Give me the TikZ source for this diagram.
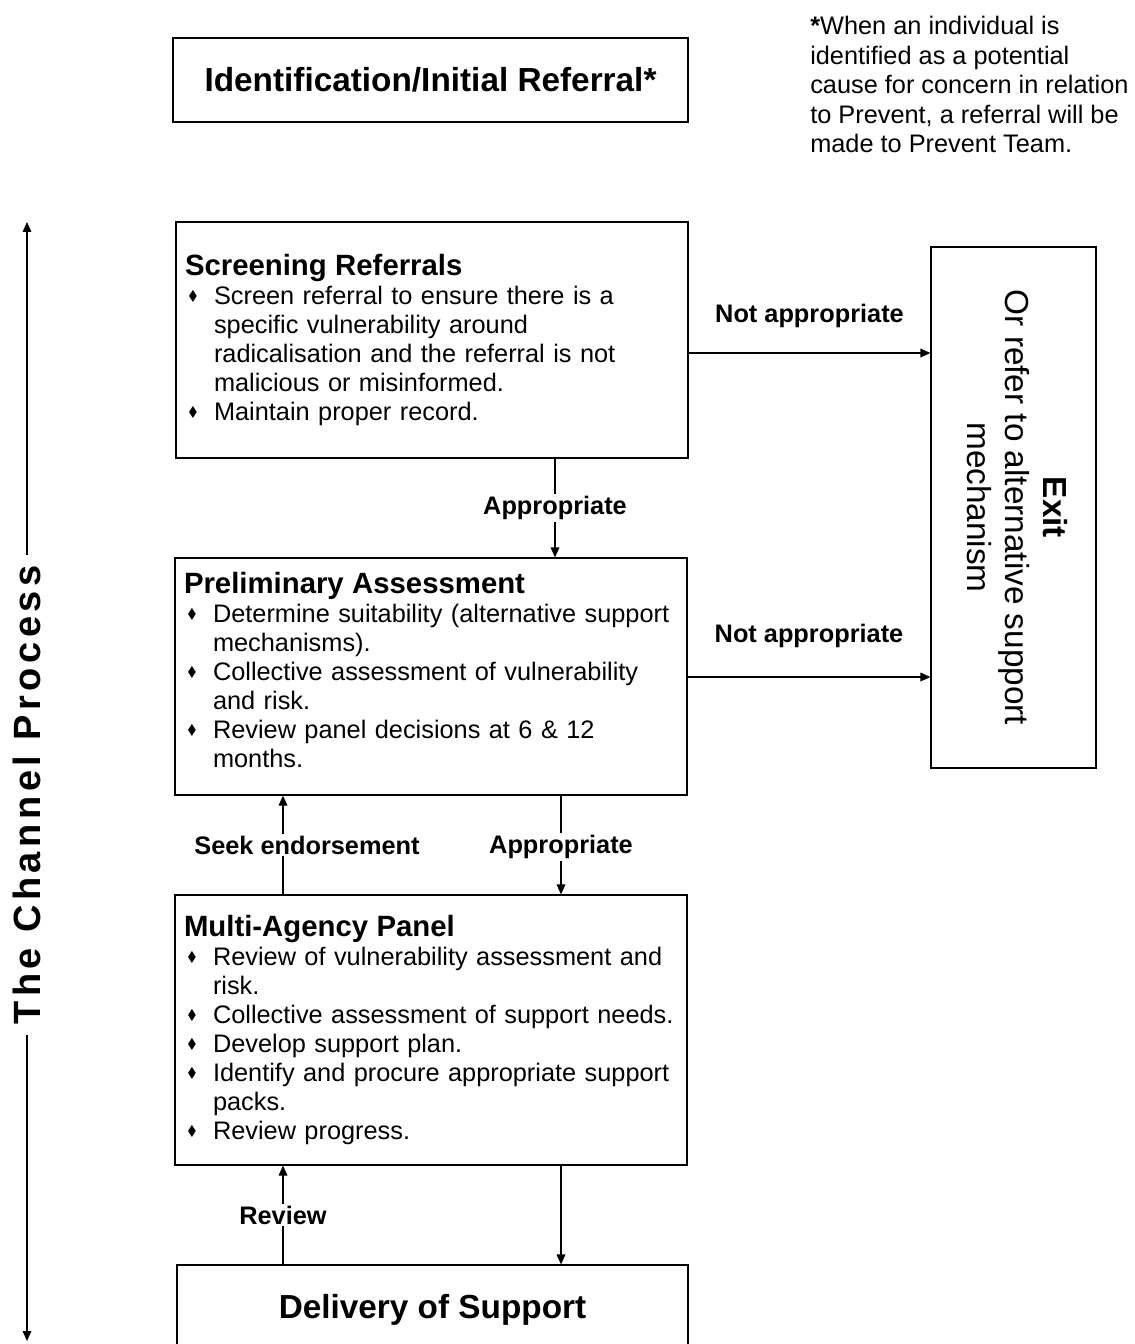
\documentclass[tikz,border=0pt]{standalone}
\usepackage{amssymb}
\usepackage{fontspec}
\setmainfont{Liberation Sans}
\usetikzlibrary{arrows.meta}

\newcommand{\titfont}{\fontsize{22}{26}\selectfont\bfseries}
\newcommand{\bul}[1]{\par\noindent\hangindent=21.75pt\hangafter=1%
  \makebox[21.75pt][l]{\hspace{2.5pt}\raisebox{3pt}{\scalebox{0.55}{$\blacklozenge$}}}#1}
\newcommand{\padbot}[1]{\par\nointerlineskip\hrule height 0pt\vskip #1\hrule height 0pt}

\tikzset{
  box/.style={draw, line width=0.9pt, inner sep=0pt},
  txtbox/.style={box, align=left, text width=370.5pt, inner xsep=6.75pt,
    font=\fontsize{19}{21.75}\selectfont},
  bigbox/.style={box, font=\fontsize{25}{30}\selectfont\bfseries},
  arr/.style={-{Triangle[length=7.5pt,width=6.5pt]}, line width=0.9pt},
  lab/.style={font=\fontsize{19}{22}\selectfont\bfseries, inner sep=1.5pt, fill=white},
}

\begin{document}
\begin{tikzpicture}[x=0.75pt,y=0.75pt,yscale=-1,xscale=1]
\useasboundingbox (0,0) rectangle (1134,1344);
\clip (0,0) rectangle (1134,1344);

% top box and note
\node[bigbox, minimum width=386.25pt, minimum height=63pt] (ident) at (430.5,80) {Identification/Initial Referral*};
\node[anchor=north west, inner sep=0pt, align=left, font=\fontsize{19}{22.1}\selectfont] (note) at (810,16)
  {\textbf{*}When an individual is\\identified as a potential\\cause for concern in relation\\to Prevent, a referral will be\\made to Prevent Team.};

% process boxes
\node[txtbox, minimum width=384pt, minimum height=177pt] (scr) at (432,340) {%
  {\titfont Screening Referrals}\par
  \bul{Screen referral to ensure there is a\newline specific vulnerability around\newline radicalisation and the referral is not\newline malicious or misinformed.}
  \bul{Maintain proper record.}};
\node[txtbox, minimum width=384pt, minimum height=177.75pt] (pre) at (431,676.5) {%
  {\titfont Preliminary Assessment}\par
  \bul{Determine suitability (alternative support\newline mechanisms).}
  \bul{Collective assessment of vulnerability\newline and risk.}
  \bul{Review panel decisions at 6 \& 12\newline months.}\padbot{10.5pt}};
\node[txtbox, minimum width=384pt, minimum height=202.5pt] (mul) at (431,1030) {%
  {\titfont Multi-Agency Panel}\par
  \bul{Review of vulnerability assessment and\newline risk.}
  \bul{Collective assessment of support needs.}
  \bul{Develop support plan.}
  \bul{Identify and procure appropriate support\newline packs.}
  \bul{Review progress.}};
\node[bigbox, minimum width=383.25pt, minimum height=67.5pt] (del) at (432.5,1310) {Delivery of Support};

% exit box
\node[box, minimum width=123.75pt, minimum height=390.75pt, font=\fontsize{25}{28.5}\selectfont] (exit) at (1013.5,507.5)
  {\rotatebox{-90}{\begin{tabular}{@{}c@{}}\textbf{Exit}\\Or refer to alternative support\\mechanism\end{tabular}}};

% helper coordinates
\coordinate (ya) at (0,353);
\coordinate (yb) at (0,677);
\coordinate (xa) at (555,0);
\coordinate (xb) at (561,0);
\coordinate (xc) at (283,0);
\coordinate (chtop) at (27,222);
\coordinate (chbot) at (27,1341);

% connectors
\draw[arr] (scr.east |- ya) -- node[midway, lab, fill=none, yshift=28pt] (na1) {Not appropriate} (exit.west |- ya);
\draw[arr] (pre.east |- yb) -- node[midway, lab, fill=none, yshift=31pt] (na2) {Not appropriate} (exit.west |- yb);
\draw[arr] (scr.south -| xa) -- node[midway, lab] (ap1) {Appropriate} (pre.north -| xa);
\draw[arr] (pre.south -| xb) -- node[midway, lab, yshift=-1.5pt] (ap2) {Appropriate} (mul.north -| xb);
\draw[arr] (mul.north -| xc) -- node[midway, lab, xshift=18pt] (seek) {Seek endorsement} (pre.south -| xc);
\draw[arr] (mul.south -| xb) -- (del.north -| xb);
\draw[arr] (del.north -| xc) -- node[midway, lab] (rev) {Review} (mul.south -| xc);

% side arrow
\draw[{Triangle[length=7.5pt,width=6.5pt]}-{Triangle[length=7.5pt,width=6.5pt]}, line width=0.9pt] (chtop) -- node[pos=0.512, rotate=90, fill=white, inner xsep=8pt, inner ysep=2pt, font=\fontsize{28.5}{30}\selectfont\bfseries\addfontfeature{LetterSpace=12}] (chan) {The Channel Process} (chbot);

\end{tikzpicture}
\end{document}
